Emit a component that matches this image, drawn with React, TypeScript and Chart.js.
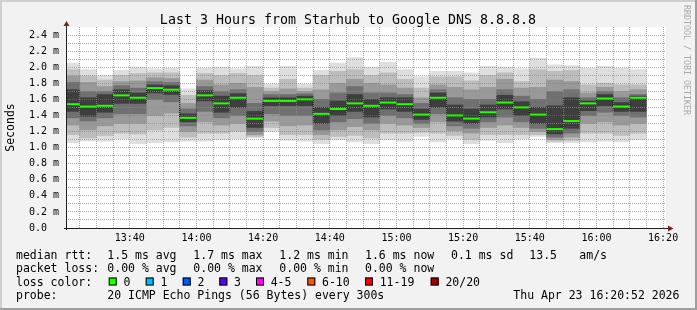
import React, { useEffect, useRef } from "react";
import { Chart, registerables } from "chart.js";

Chart.register(...registerables);

// ---------- data ----------
const rangeStart = "13:20:52";
const rangeEnd = "16:20:52";

const bucketStart = [
  "13:20", "13:25", "13:30", "13:35", "13:40", "13:45", "13:50", "13:55",
  "14:00", "14:05", "14:10", "14:15", "14:20", "14:25", "14:30", "14:35",
  "14:40", "14:45", "14:50", "14:55", "15:00", "15:05", "15:10", "15:15",
  "15:20", "15:25", "15:30", "15:35", "15:40", "15:45", "15:50", "15:55",
  "16:00", "16:05", "16:10",
];

// smoke layers (ms): outer -> inner
const pingMax = [2.05, 1.97, 1.90, 1.96, 2.00, 1.98, 1.99, 1.73, 1.99, 2.00, 1.98, 2.01, 1.79, 2.01, 1.79, 1.96, 2.05, 2.12, 2.00, 2.06, 1.97, 1.88, 1.95, 1.95, 1.93, 2.01, 2.00, 1.98, 2.11, 2.03, 2.02, 1.99, 2.01, 1.99, 1.97];
const pingHi1 = [1.97, 1.89, 1.84, 1.90, 1.92, 1.93, 1.93, 1.65, 1.92, 1.90, 1.92, 1.90, 1.74, 1.85, 1.74, 1.90, 1.95, 1.97, 1.90, 1.93, 1.85, 1.74, 1.88, 1.88, 1.83, 1.90, 1.93, 1.82, 1.97, 1.95, 1.96, 1.78, 1.80, 1.78, 1.78];
const pingHi2 = [1.89, 1.81, 1.76, 1.82, 1.83, 1.87, 1.86, 1.55, 1.84, 1.78, 1.80, 1.75, 1.70, 1.73, 1.70, 1.72, 1.80, 1.85, 1.80, 1.78, 1.74, 1.62, 1.78, 1.75, 1.72, 1.75, 1.85, 1.74, 1.75, 1.84, 1.82, 1.68, 1.75, 1.70, 1.72];
const pingHi3 = [1.81, 1.70, 1.70, 1.77, 1.74, 1.82, 1.81, 1.48, 1.76, 1.70, 1.72, 1.55, 1.66, 1.66, 1.67, 1.60, 1.68, 1.76, 1.68, 1.68, 1.66, 1.55, 1.72, 1.62, 1.60, 1.60, 1.72, 1.64, 1.60, 1.70, 1.72, 1.62, 1.70, 1.62, 1.66];
const pingHi4 = [1.72, 1.62, 1.66, 1.72, 1.68, 1.78, 1.77, 1.42, 1.71, 1.64, 1.67, 1.45, 1.62, 1.62, 1.64, 1.50, 1.58, 1.66, 1.60, 1.62, 1.62, 1.48, 1.68, 1.53, 1.48, 1.53, 1.65, 1.57, 1.50, 1.52, 1.62, 1.58, 1.66, 1.56, 1.64];
const medianRtt = [1.54, 1.51, 1.52, 1.65, 1.62, 1.74, 1.72, 1.37, 1.65, 1.55, 1.62, 1.36, 1.58, 1.58, 1.60, 1.42, 1.48, 1.55, 1.52, 1.56, 1.54, 1.41, 1.62, 1.40, 1.36, 1.44, 1.56, 1.50, 1.41, 1.23, 1.33, 1.55, 1.61, 1.51, 1.62];
const pingLo4 = [1.45, 1.39, 1.44, 1.55, 1.55, 1.68, 1.66, 1.32, 1.58, 1.44, 1.50, 1.25, 1.52, 1.52, 1.52, 1.30, 1.40, 1.45, 1.38, 1.48, 1.45, 1.35, 1.50, 1.33, 1.30, 1.38, 1.48, 1.40, 1.30, 1.17, 1.24, 1.46, 1.52, 1.45, 1.45];
const pingLo3 = [1.37, 1.33, 1.37, 1.42, 1.42, 1.60, 1.57, 1.27, 1.45, 1.37, 1.40, 1.20, 1.42, 1.40, 1.40, 1.22, 1.32, 1.36, 1.30, 1.40, 1.37, 1.30, 1.42, 1.27, 1.24, 1.32, 1.38, 1.32, 1.24, 1.13, 1.18, 1.40, 1.44, 1.40, 1.38];
const pingLo2 = [1.28, 1.22, 1.27, 1.30, 1.30, 1.40, 1.43, 1.20, 1.32, 1.28, 1.30, 1.16, 1.33, 1.27, 1.28, 1.16, 1.22, 1.26, 1.22, 1.30, 1.28, 1.25, 1.32, 1.21, 1.18, 1.25, 1.28, 1.25, 1.20, 1.10, 1.13, 1.30, 1.32, 1.28, 1.30];
const pingLo1 = [1.16, 1.12, 1.15, 1.18, 1.17, 1.22, 1.25, 1.13, 1.18, 1.18, 1.20, 1.14, 1.25, 1.16, 1.16, 1.10, 1.14, 1.15, 1.12, 1.18, 1.18, 1.19, 1.18, 1.15, 1.10, 1.16, 1.16, 1.16, 1.16, 1.08, 1.09, 1.18, 1.18, 1.15, 1.18];
const pingMin = [1.06, 1.08, 1.08, 1.11, 1.05, 1.06, 1.07, 1.08, 1.08, 1.10, 1.11, 1.12, 1.20, 1.09, 1.08, 1.05, 1.10, 1.07, 1.05, 1.10, 1.08, 1.14, 1.07, 1.11, 1.05, 1.09, 1.06, 1.11, 1.14, 1.06, 1.06, 1.07, 1.08, 1.07, 1.10];

const timeLabels = ["13:40", "14:00", "14:20", "14:40", "15:00", "15:20", "15:40", "16:00", "16:20"];
const yTickValues = [0, 0.1, 0.2, 0.3, 0.4, 0.5, 0.6, 0.7, 0.8, 0.9, 1.0, 1.1, 1.2, 1.3, 1.4, 1.5, 1.6, 1.7, 1.8, 1.9, 2.0, 2.1, 2.2, 2.3, 2.4];

const titleText = "Last 3 Hours from Starhub to Google DNS 8.8.8.8";
const yTitle = "Seconds";
const watermark = "RRDTOOL / TOBI OETIKER";

const rttLabel = "median rtt:";
const rttStats = ["1.5 ms avg", "1.7 ms max", "1.2 ms min", "1.6 ms now", "0.1 ms sd", "13.5", "am/s"];
const lossLabel = "packet loss:";
const lossStats = ["0.00 % avg", "0.00 % max", "0.00 % min", "0.00 % now"];
const lossColorLabel = "loss color:";
const lossNames = ["0", "1", "2", "3", "4-5", "6-10", "11-19", "20/20"];
const lossColors = ["#26ff00", "#00b8ff", "#0059ff", "#5e00ff", "#ff00ff", "#ff5500", "#ff0000", "#a10000"];
const probeLabel = "probe:";
const probeText = "20 ICMP Echo Pings (56 Bytes) every 300s";
const dateText = "Thu Apr 23 16:20:52 2026";

// ---------- layout / style ----------
const W = 697;
const H = 310;
const MONO = '"DejaVu Sans Mono", monospace';
const GRID = "rgba(143,143,143,0.75)";
const MGRID = "rgba(222,79,79,0.6)";
const AXIS = "#1f1f1f";
const ARROW = "#801f1f";
const MEDIAN = "#26ff00";
const layerColors = ["#dedede", "#bdbdbd", "#999999", "#707070", "#3e3e3e"];

const rttX = [107.3, 193.3, 279.3, 365, 451, 529.3, 579.3];
const lossX = [107.3, 193.3, 279.3, 365];
const boxX = [108.7, 145.7, 182.7, 219.3, 256, 307.3, 365, 430.7];
const rowY = [258.5, 272, 285.5, 299];

const toMinutes = (s: string) => {
  const p = s.split(":").map(Number);
  return p[0] * 60 + p[1] + (p[2] || 0) / 60;
};

const decor = {
  id: "decor",
  beforeDraw(chart: any) {
    const { ctx, chartArea: a } = chart;
    ctx.save();
    ctx.fillStyle = "#f2f2f2";
    ctx.fillRect(0, 0, W, H);
    ctx.fillStyle = "#cfcfcf";
    ctx.fillRect(0, 0, W, 2);
    ctx.fillRect(0, 0, 2, H);
    ctx.fillStyle = "#9e9e9e";
    ctx.fillRect(0, H - 2, W, 2);
    ctx.fillRect(W - 2, 0, 2, H);
    ctx.fillStyle = "#ffffff";
    ctx.fillRect(a.left, a.top, a.right - a.left, a.bottom - a.top);
    ctx.restore();
  },
  afterDraw(chart: any) {
    const { ctx, chartArea: a } = chart;
    ctx.save();
    // axes
    ctx.strokeStyle = AXIS;
    ctx.lineWidth = 1;
    ctx.beginPath();
    ctx.moveTo(a.left - 2, a.bottom + 0.5);
    ctx.lineTo(a.right + 3, a.bottom + 0.5);
    ctx.moveTo(a.left + 0.5, a.bottom + 2);
    ctx.lineTo(a.left + 0.5, a.top - 1);
    ctx.stroke();
    ctx.fillStyle = ARROW;
    ctx.beginPath();
    ctx.moveTo(a.right + 2, a.bottom - 2.5);
    ctx.lineTo(a.right + 7.5, a.bottom + 0.5);
    ctx.lineTo(a.right + 2, a.bottom + 3.5);
    ctx.closePath();
    ctx.fill();
    ctx.beginPath();
    ctx.moveTo(a.left - 2.5, a.top - 1);
    ctx.lineTo(a.left + 0.5, a.top - 6);
    ctx.lineTo(a.left + 3.5, a.top - 1);
    ctx.closePath();
    ctx.fill();

    // title
    ctx.fillStyle = "#000";
    ctx.textBaseline = "alphabetic";
    ctx.font = `13.3px ${MONO}`;
    ctx.textAlign = "center";
    ctx.fillText(titleText, 348, 24);

    // legend
    ctx.textAlign = "left";
    ctx.font = `11.5px ${MONO}`;
    ctx.fillText(rttLabel, 16, rowY[0]);
    rttStats.forEach((t, i) => ctx.fillText(t, rttX[i], rowY[0]));
    ctx.fillText(lossLabel, 16, rowY[1]);
    lossStats.forEach((t, i) => ctx.fillText(t, lossX[i], rowY[1]));
    ctx.fillText(lossColorLabel, 16, rowY[2]);
    lossNames.forEach((t, i) => {
      const bx = boxX[i];
      ctx.fillStyle = lossColors[i];
      ctx.fillRect(bx, rowY[2] - 8, 8, 8);
      ctx.strokeStyle = "#000";
      ctx.strokeRect(bx + 0.5, rowY[2] - 7.5, 7, 7);
      ctx.fillStyle = "#000";
      ctx.fillText(t, bx + 14.7, rowY[2]);
    });
    ctx.fillText(probeLabel, 16, rowY[3]);
    ctx.fillText(probeText, 107.3, rowY[3]);
    ctx.fillText(dateText, 513.3, rowY[3]);

    // watermark
    ctx.fillStyle = "#a8a8a8";
    ctx.font = `8.3px ${MONO}`;
    ctx.translate(684.3, 5);
    ctx.rotate(Math.PI / 2);
    ctx.fillText(watermark, 0, 0);
    ctx.restore();
  },
};

export default function App() {
  const ref = useRef<HTMLCanvasElement>(null);

  useEffect(() => {
    const canvas = ref.current;
    if (!canvas) return;
    const xs = bucketStart.map((s) => toMinutes(s) + 2.5);
    const xMin = toMinutes(rangeStart);
    const xMax = toMinutes(rangeEnd);
    const xTicks: number[] = [];
    for (let t = Math.ceil(xMin / 5) * 5; t <= xMax; t += 5) xTicks.push(t);
    const majorX = new Map<number, string>(timeLabels.map((l) => [Math.round(toMinutes(l)), l]));

    const layers = [
      { lo: pingMin, hi: pingMax },
      { lo: pingLo1, hi: pingHi1 },
      { lo: pingLo2, hi: pingHi2 },
      { lo: pingLo3, hi: pingHi3 },
      { lo: pingLo4, hi: pingHi4 },
    ];

    const datasets: any[] = layers.map((L, k) => ({
      type: "bar",
      data: xs.map((x, i) => ({ x, y: [L.lo[i], L.hi[i]] })),
      backgroundColor: layerColors[k],
      borderWidth: 0,
      grouped: false,
      barPercentage: 1,
      categoryPercentage: 1,
      order: 10 - k,
      clip: 0,
    }));

    datasets.push({
      type: "line",
      data: xs.map((x, i) => ({ x, y: medianRtt[i] })),
      stepped: "middle",
      borderColor: "#000",
      borderWidth: 1,
      borderDash: [1, 1],
      pointStyle: "line",
      pointRadius: (c: any) => {
        const s = c.chart.scales.x;
        return Math.abs(s.getPixelForValue(xMin + 5) - s.getPixelForValue(xMin)) / 2;
      },
      pointBorderColor: MEDIAN,
      pointBackgroundColor: MEDIAN,
      pointBorderWidth: 2,
      order: 0,
      clip: 0,
    });

    const chart = new Chart(canvas, {
      type: "bar",
      data: { datasets },
      plugins: [decor],
      options: {
        responsive: false,
        animation: false,
        events: [],
        devicePixelRatio: 1,
        layout: { padding: { top: 27, right: W - 666, left: 0, bottom: 0 } },
        plugins: { legend: { display: false }, tooltip: { enabled: false }, title: { display: false } },
        scales: {
          x: {
            type: "linear",
            min: xMin,
            max: xMax,
            offset: false,
            afterBuildTicks: (s: any) => {
              s.ticks = xTicks.map((v) => ({ value: v }));
            },
            afterFit: (s: any) => {
              s.height = H - 228;
            },
            ticks: {
              autoSkip: false,
              maxRotation: 0,
              minRotation: 0,
              padding: 4,
              color: "#000",
              font: { family: MONO, size: 10 },
              callback: (v: any) => majorX.get(Math.round(Number(v))) ?? "",
            },
            grid: {
              offset: false,
              drawTicks: false,
              lineWidth: 1,
              z: 1,
              color: (c: any) => (c.tick && Math.round(c.tick.value) % 20 === 0 ? MGRID : GRID),
            },
            border: { display: false, dash: [1, 1] },
          },
          y: {
            type: "linear",
            min: 0,
            max: 2.5,
            afterBuildTicks: (s: any) => {
              s.ticks = yTickValues.map((v) => ({ value: v }));
            },
            afterFit: (s: any) => {
              s.width = 66;
            },
            ticks: {
              autoSkip: false,
              padding: 7,
              color: "#000",
              font: { family: MONO, size: 10 },
              callback: (v: any) => {
                const k = Math.round(Number(v) * 10);
                if (k % 2 !== 0) return "";
                return k === 0 ? "0.0  " : `${Number(v).toFixed(1)} m`;
              },
            },
            grid: {
              drawTicks: false,
              lineWidth: 1,
              z: 1,
              color: (c: any) => (c.tick && Math.round(c.tick.value * 10) % 2 === 0 ? MGRID : GRID),
            },
            border: { display: false, dash: [1, 1] },
            title: {
              display: true,
              text: yTitle,
              color: "#000",
              font: { family: MONO, size: 11.5 },
              padding: { top: 4.5, bottom: 0 },
            },
          },
        },
      } as any,
    });

    return () => chart.destroy();
  }, []);

  return (
    <div style={{ position: "fixed", left: 0, top: 0, width: W, height: H }}>
      <canvas ref={ref} width={W} height={H} style={{ display: "block" }} />
    </div>
  );
}
